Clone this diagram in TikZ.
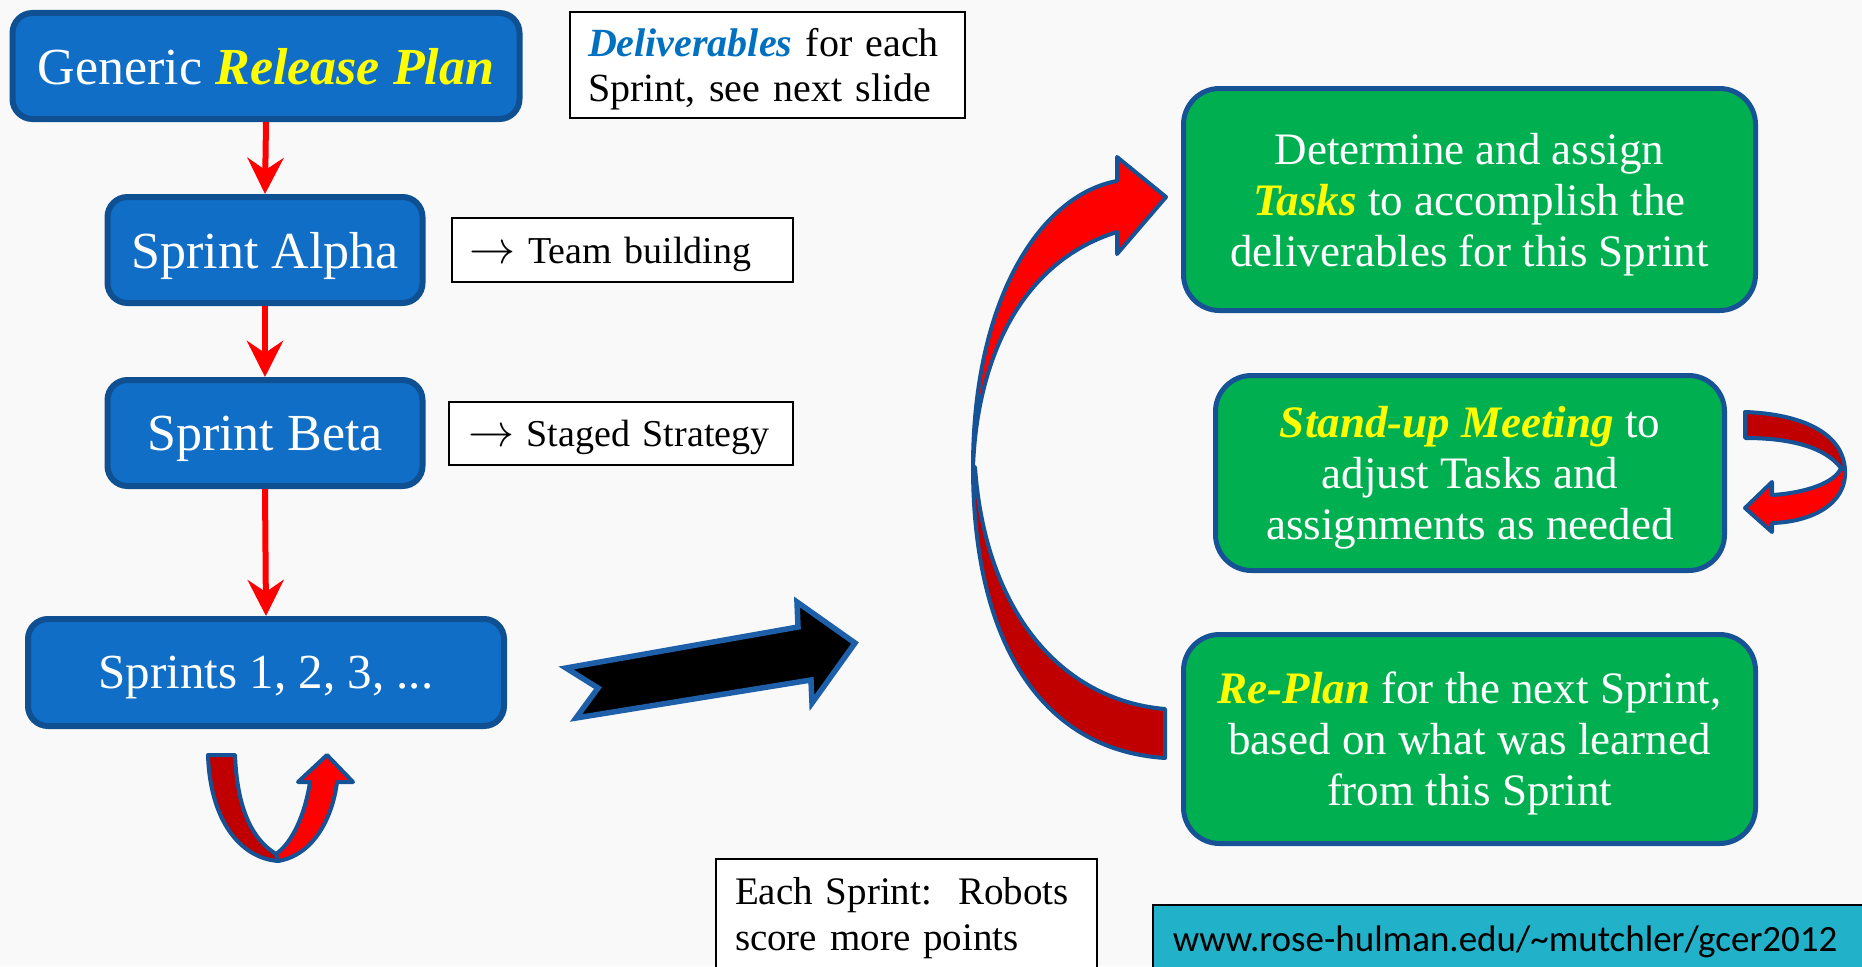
\documentclass[tikz,border=0pt]{standalone}
\usepackage{fontspec}
\setmainfont{Liberation Serif}
\newfontfamily\urlfont{Carlito}
\usetikzlibrary{arrows.meta}
\definecolor{bluefill}{RGB}{17,110,198}
\definecolor{blueedge}{RGB}{14,80,145}
\definecolor{greenfill}{RGB}{0,176,80}
\definecolor{greenedge}{RGB}{24,82,150}
\definecolor{hiyellow}{RGB}{255,255,0}
\definecolor{delivblue}{RGB}{0,112,192}
\definecolor{arrowred}{RGB}{255,0,0}
\definecolor{darkred}{RGB}{192,0,0}
\definecolor{ribbonedge}{RGB}{22,82,150}
\definecolor{blackedge}{RGB}{30,95,170}
\definecolor{urlfill}{RGB}{33,177,200}
\definecolor{bgcol}{RGB}{249,249,249}
\newcommand{\hl}[1]{\textcolor{hiyellow}{\textbf{\textit{#1}}}}
\newcommand{\rarr}{\scalebox{1.85}{$\rightarrow$}}
\begin{document}
\begin{tikzpicture}[x=1pt,y=-1pt,
  bluebox/.style={draw=blueedge, fill=bluefill, line width=6pt, rounded corners=20pt,
    text=white, font=\fontsize{52}{58}\selectfont, inner sep=0pt, text depth=0pt},
  greenbox/.style={draw=greenedge, fill=greenfill, line width=5pt, rounded corners=36pt,
    text=white, font=\fontsize{45}{51}\selectfont, align=center, inner sep=0pt, text depth=0pt},
  notebox/.style={draw=black, fill=white, line width=2pt, font=\fontsize{40}{45}\selectfont,
    align=left, inner ysep=0pt},
  redarrow/.style={draw=arrowred, line width=6pt, -{Stealth[length=36pt,width=36pt,inset=12pt]}},
  ribbon/.style={draw=ribbonedge, line width=4pt, line join=round},
]
\useasboundingbox (0,0) rectangle (1862,966);
\clip (0,0) rectangle (1862,966);
\fill[bgcol] (0,0) rectangle (1862,966);

% left column
\node[bluebox, minimum width=507pt, minimum height=106pt] (gen) at (266,66) {Generic \hl{Release Plan}};
\node[bluebox, minimum width=315pt, minimum height=106pt] (alpha) at (265,250) {Sprint Alpha};
\node[bluebox, minimum width=315pt, minimum height=106pt] (beta) at (265,433) {Sprint Beta};
\node[bluebox, font=\fontsize{49}{55}\selectfont, minimum width=476pt, minimum height=107pt] (sprints) at (266,672.5) {Sprints 1, 2, 3, ...};

\draw[redarrow] (gen.south) -- (alpha.north);
\draw[redarrow] (alpha.south) -- (beta.north);
\draw[redarrow] (beta.south) -- (sprints.north);

% note boxes
\node[notebox, inner xsep=18pt, text width=359pt, minimum height=106pt, text depth=45pt] (deliv) at (767.5,65)
  {\textcolor{delivblue}{\textbf{\textit{Deliverables}}} for each\\Sprint, see next slide};
\node[notebox, font=\fontsize{38}{44}\selectfont, inner xsep=18pt, text width=305pt, minimum height=64pt, text depth=0pt] (team) at (622,250)
  {\mbox{\rarr\ Team building}};
\node[notebox, font=\fontsize{38}{44}\selectfont, inner xsep=19pt, text width=306pt, minimum height=63pt, text depth=0pt] (staged) at (621,433.5)
  {\mbox{\rarr\ Staged Strategy}};

% green boxes
\node[greenbox, minimum width=572pt, minimum height=222pt] (tasks) at (1469.5,199.5)
  {Determine and assign\\\hl{Tasks} to accomplish the\\deliverables for this Sprint};
\node[greenbox, minimum width=509pt, minimum height=195pt] (standup) at (1470,473)
  {\hl{Stand-up Meeting} to\\adjust Tasks and\\assignments as needed};
\node[greenbox, minimum width=572pt, minimum height=209pt] (replan) at (1469.5,739)
  {\hl{Re-Plan} for the next Sprint,\\based on what was learned\\from this Sprint};

% bottom boxes
\node[notebox, font=\fontsize{39}{46}\selectfont, anchor=north west, inner xsep=19pt, inner ysep=18pt,
  text width=343pt, text depth=120pt] (each) at (715,858)
  {Each Sprint:\ \ Robots\\score more points};
\node[draw=black, fill=urlfill, line width=1.5pt, anchor=base west, inner xsep=20pt, inner ysep=8pt,
  text height=38pt, text depth=40pt, minimum width=760pt, text width=720pt, align=left,
  font=\urlfont\fontsize{37}{40}\selectfont] (url) at (1152,951)
  {www.rose-hulman.edu/\textasciitilde mutchler/gcer2012};

% black block arrow
\draw[draw=blackedge, fill=black, line width=5.5pt, line join=miter]
  (566,668) -- (798,627) -- (797,602) -- (855,643) -- (812,703) -- (811,680) -- (576,718) -- (598,688) -- cycle;

% U-turn arrow below sprints
\draw[ribbon, fill=darkred] (208,755) -- (235,755) .. controls (237,805) and (250,838) .. (276,854)
  -- (278,861) .. controls (240,858) and (210,820) .. (208,755) -- cycle;
\draw[ribbon, fill=arrowred] (276,854) -- (278,861) .. controls (315,855) and (333,815) .. (337,782)
  -- (353,782) -- (327,755) -- (298,782) -- (310,782) .. controls (305,815) and (292,843) .. (276,854) -- cycle;

% big C arrow
\draw[ribbon, fill=darkred] (973,467) .. controls (973,640) and (1040,750) .. (1165,758)
  -- (1165,709) .. controls (1060,700) and (985,610) .. (975,467) -- cycle;
\draw[ribbon, fill=arrowred] (1117,181) .. controls (1040,195) and (973,300) .. (973,467)
  .. controls (977,360) and (1020,262) .. (1117,232) -- (1117,254) -- (1166,197) -- (1117,157) -- cycle;

% small arrow beside stand-up
\draw[ribbon, fill=darkred] (1745,412) .. controls (1800,414) and (1843,432) .. (1845,470)
  -- (1841,468) .. controls (1825,447) and (1790,438) .. (1745,438) -- cycle;
\draw[ribbon, fill=arrowred] (1845,470) .. controls (1847,505) and (1810,522) .. (1772,523)
  -- (1772,532) -- (1745,508) -- (1772,482) -- (1772,495) .. controls (1805,493) and (1835,483) .. (1841,468) -- cycle;
\end{tikzpicture}
\end{document}
